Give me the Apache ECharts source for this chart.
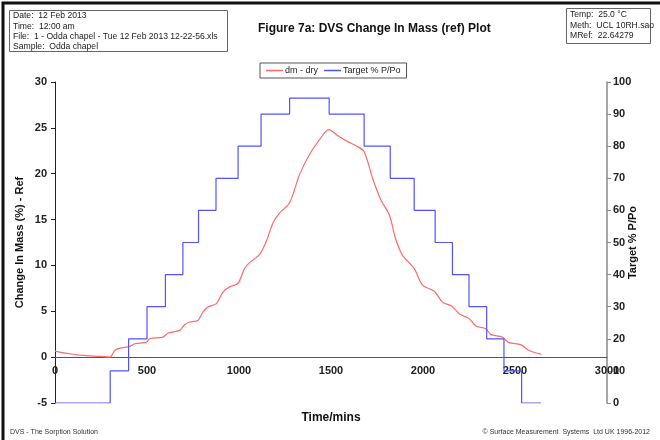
<!DOCTYPE html>
<html>
<head>
<meta charset="utf-8">
<script src="https://cdn.jsdelivr.net/npm/echarts@6/dist/echarts.min.js"></script>
<style>
  html, body { margin: 0; padding: 0; background: #fff; }
  #chart { width: 660px; height: 440px; }
</style>
</head>
<body>
<div id="chart"></div>
<script>
// dm - dry curve (time in mins, change in mass %)
const massTime = [0, 80, 155, 245, 298, 325, 352, 407, 434, 497, 515, 587, 615, 678, 705, 732, 777, 804, 831, 877,
  913, 949, 994, 1030, 1057, 1112, 1148, 1184, 1220, 1274, 1329, 1383, 1437, 1488, 1540, 1590, 1640, 1680,
  1726, 1772, 1817, 1853, 1889, 1952, 1997, 2061, 2106, 2157, 2196, 2251, 2287, 2341, 2368, 2431, 2467,
  2531, 2576, 2643];
const massValue = [0.66, 0.37, 0.19, 0.08, 0.0, 0.73, 0.98, 1.17, 1.46, 1.64, 2.0, 2.19, 2.63, 2.92, 3.54, 3.83, 4.0,
  4.92, 5.47, 5.84, 7.1, 7.66, 8.03, 9.67, 10.3, 11.2, 12.6, 14.6, 15.7, 16.8, 19.9, 22.1, 23.7, 24.8, 24.1,
  23.5, 23.0, 22.4, 19.5, 17.1, 15.5, 12.8, 11.1, 9.67, 7.85, 7.19, 6.0, 5.55, 4.74, 4.2, 3.39, 3.1, 2.48,
  2.19, 1.58, 1.36, 0.73, 0.3];

// target % P/Po steps (start time of each step, value)
const stepTime = [0, 300, 400, 500, 600, 695, 780, 875, 995, 1120, 1275, 1490, 1680, 1822, 1952, 2066, 2160,
  2250, 2346, 2440, 2536, 2641];
const stepTarget = [0, 10, 20, 30, 40, 50, 60, 70, 80, 90, 95, 90, 80, 70, 60, 50, 40, 30, 20, 10, 0, 0];

const infoLeft = ['Date:  12 Feb 2013', 'Time:  12:00 am',
  'File:  1 - Odda chapel - Tue 12 Feb 2013 12-22-56.xls', 'Sample:  Odda chapel'];
const infoRight = ['Temp:  25.0 \u00b0C', 'Meth:  UCL 10RH.sao', 'MRef:  22.64279'];

const font = '"Liberation Sans", Arial, sans-serif';
const chart = echarts.init(document.getElementById('chart'));

let graphics = [
  { type: 'rect', shape: { x: 3, y: 3, width: 720, height: 520 }, style: { fill: 'none', stroke: '#111', lineWidth: 3 } },
  { type: 'rect', shape: { x: 9.5, y: 10.5, width: 218, height: 41 }, style: { fill: '#fff', stroke: '#666', lineWidth: 1 } },
  { type: 'rect', shape: { x: 566.5, y: 8.5, width: 84, height: 35 }, style: { fill: '#fff', stroke: '#666', lineWidth: 1 } },
  { type: 'text', x: 331, y: 418, style: { text: 'Time/mins', font: 'bold 12px ' + font, fill: '#111', align: 'center', verticalAlign: 'middle' } },
  { type: 'text', left: 10, top: 429, style: { text: 'DVS - The Sorption Solution', font: '7px ' + font, fill: '#333' } },
  { type: 'text', right: 10, top: 429, style: { text: '\u00a9 Surface Measurement  Systems  Ltd UK 1996-2012', font: '7px ' + font, fill: '#333' } }
];
infoLeft.forEach((t, i) => {
  graphics.push({ type: 'text', x: 13, y: 11.5 + i * 10.3, style: { text: t, font: '8.6px ' + font, fill: '#222' } });
});
infoRight.forEach((t, i) => {
  graphics.push({ type: 'text', x: 570, y: 10 + i * 10.8, style: { text: t, font: '8.6px ' + font, fill: '#222' } });
});

const option = {
  animation: false,
  backgroundColor: '#fff',
  textStyle: { fontFamily: font },
  title: {
    text: 'Figure 7a: DVS Change In Mass (ref) Plot',
    left: 253, top: 18,
    textStyle: { fontSize: 12, fontWeight: 'bold', color: '#111', fontFamily: font }
  },
  legend: {
    left: 260, top: 63,
    padding: [3, 6],
    borderColor: '#555', borderWidth: 1,
    itemWidth: 17, itemHeight: 1.5, itemGap: 6,
    icon: 'rect',
    textStyle: { fontSize: 9, color: '#222', fontFamily: font, padding: [0, 0, 0, -3] },
    data: ['dm - dry', 'Target % P/Po']
  },
  grid: { left: 55, right: 53, top: 82, bottom: 37, containLabel: false, outerBoundsMode: 'none' },
  xAxis: {
    type: 'value', min: 0, max: 3000, interval: 500,
    axisLine: { onZero: true, onZeroAxisIndex: 0, lineStyle: { color: '#555', width: 1 } },
    axisTick: { show: false },
    axisLabel: { fontSize: 11, fontWeight: 'bold', color: '#222', margin: -38, formatter: v => String(v) },
    splitLine: { show: false }
  },
  yAxis: [
    {
      type: 'value', min: -5, max: 30, interval: 5,
      name: 'Change In Mass (%) - Ref', nameLocation: 'middle', nameGap: 30, nameRotate: 90,
      nameMoveOverlap: false,
      nameTextStyle: { fontSize: 11, fontWeight: 'bold', color: '#111' },
      axisLine: { show: true, lineStyle: { color: '#222', width: 1 } },
      axisTick: { show: true, length: 4, lineStyle: { color: '#222' } },
      axisLabel: { fontSize: 11, fontWeight: 'bold', color: '#222', margin: 8 },
      splitLine: { show: false }
    },
    {
      type: 'value', min: 0, max: 100, interval: 10, position: 'right',
      name: 'Target % P/Po', nameLocation: 'middle', nameGap: 20, nameRotate: 90,
      nameMoveOverlap: false,
      nameTextStyle: { fontSize: 11, fontWeight: 'bold', color: '#111' },
      axisLine: { show: true, lineStyle: { color: '#888', width: 1.5 } },
      axisTick: { show: true, length: 4, lineStyle: { color: '#888' } },
      axisLabel: { fontSize: 11, fontWeight: 'bold', color: '#222', margin: 6 },
      splitLine: { show: false }
    }
  ],
  series: [
    {
      name: 'dm - dry', type: 'line', yAxisIndex: 0,
      data: massTime.map((t, i) => [t, massValue[i]]),
      showSymbol: false, smooth: 0.3,
      lineStyle: { color: '#ff6a6a', width: 1.2 },
      itemStyle: { color: '#ff6a6a' }
    },
    {
      name: 'Target % P/Po', type: 'line', yAxisIndex: 1,
      data: stepTime.map((t, i) => [t, stepTarget[i]]),
      step: 'end', showSymbol: false,
      lineStyle: { color: '#5252ff', width: 1.2 },
      itemStyle: { color: '#5252ff' }
    }
  ],
  graphic: graphics
};
chart.setOption(option);
</script>
</body>
</html>
